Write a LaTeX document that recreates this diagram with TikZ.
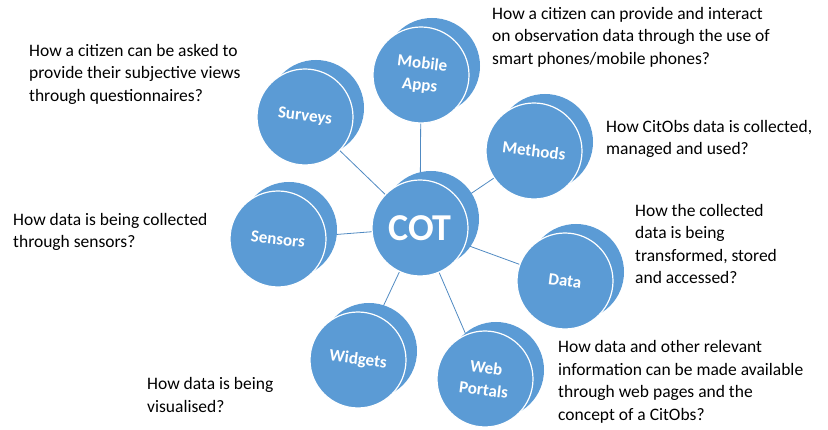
\documentclass[tikz,border=0pt]{standalone}
\usepackage{fontspec}
\setmainfont{Carlito}
\usetikzlibrary{shadows, backgrounds}
\definecolor{discblue}{RGB}{91,155,213}
\definecolor{linkblue}{RGB}{80,138,194}
\tikzset{
    disc/.style={
           circle,
           fill=discblue,
           draw=white, line width=1.2pt,
           minimum size=96pt,
           inner sep=0pt,
           copy shadow={shadow xshift=11pt, shadow yshift=9pt, fill=discblue, draw=none},
           },
    disclabel/.style={
           text=white,
           font=\bfseries\fontsize{17}{22}\selectfont,
           align=center,
           inner sep=1pt,
           rotate=-7,
           },
    question/.style={
           anchor=west,
           align=left,
           inner sep=0pt,
           font=\fontsize{17.5}{22.5}\selectfont,
           },
    link/.style={draw=linkblue, line width=0.8pt},
}

\begin{document}
\begin{tikzpicture}[x=1pt, y=-1pt]
  \useasboundingbox (0,0) rectangle (828,430);
  \node[disc, label={[text=white, font=\bfseries\fontsize{38}{40}\selectfont]center:COT}] (cot) at (420,228) {};
  \node[disc, label={[disclabel]center:Mobile\\Apps}]   (mob) at (421,75)  {};
  \node[disc, label={[disclabel]center:Methods}]        (met) at (534,151) {};
  \node[disc, label={[disclabel]center:Data}]           (dat) at (565,281) {};
  \node[disc, label={[disclabel]center:Web\\Portals}]   (web) at (485,379) {};
  \node[disc, label={[disclabel]center:Widgets}]        (wid) at (358,360) {};
  \node[disc, label={[disclabel]center:Sensors}]        (sen) at (278,239) {};
  \node[disc, label={[disclabel]center:Surveys}]        (sur) at (305,117) {};

  \begin{pgfonlayer}{background}
    \foreach \sat in {mob, met, dat, web, wid, sen, sur}
      \draw[link] (cot.center) -- (\sat.center);
  \end{pgfonlayer}

  \node[question] (qsur) at (29,74)    {How a citizen can be asked to\\provide their subjective views\\through questionnaires?};
  \node[question] (qmob) at (492,37)   {How a citizen can provide and interact\\on observation data through the use of\\smart phones/mobile phones?};
  \node[question] (qmet) at (606,139)  {How CitObs data is collected,\\managed and used?};
  \node[question] (qdat) at (635,244)  {How the collected\\data is being\\transformed, stored\\and accessed?};
  \node[question] (qweb) at (558,382)  {How data and other relevant\\information can be made available\\through web pages and the\\concept of a CitObs?};
  \node[question] (qsen) at (13,232)   {How data is being collected\\through sensors?};
  \node[question] (qwid) at (147,395)  {How data is being\\visualised?};
\end{tikzpicture}
\end{document}
